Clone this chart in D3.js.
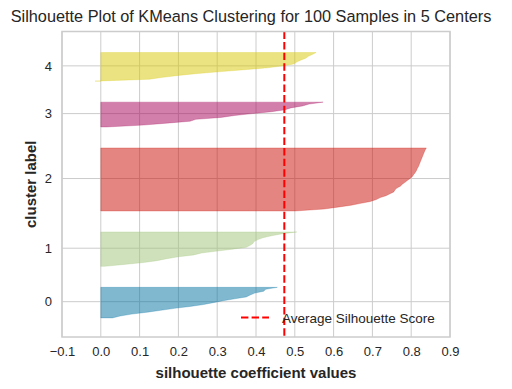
<!DOCTYPE html>
<html>
<head>
<meta charset="utf-8">
<script src="https://cdn.jsdelivr.net/npm/d3@7"></script>
<style>
  body { margin: 0; background: #ffffff; }
  svg { display: block; font-family: "Liberation Sans", Arial, sans-serif; }
</style>
</head>
<body>
<svg></svg>
<script>
/* silhouette values per cluster, sorted ascending */
var cluster0 = [0.03, 0.05, 0.08, 0.12, 0.155, 0.19, 0.23, 0.265, 0.29, 0.315, 0.345, 0.375, 0.385, 0.397, 0.42, 0.425, 0.455];
var cluster1 = [0.01, 0.06, 0.11, 0.145, 0.17, 0.2, 0.24, 0.26, 0.3, 0.34, 0.375, 0.385, 0.392, 0.395, 0.405, 0.418, 0.44, 0.465, 0.505];
var cluster2 = [0.5, 0.575, 0.61, 0.645, 0.67, 0.695, 0.71, 0.72, 0.735, 0.745, 0.755, 0.758, 0.763, 0.772, 0.777, 0.784,
  0.79, 0.797, 0.803, 0.806, 0.81, 0.813, 0.815, 0.818, 0.82, 0.822, 0.824, 0.826, 0.828, 0.83, 0.832, 0.834, 0.836, 0.839];
var cluster3 = [0.015, 0.11, 0.17, 0.23, 0.245, 0.31, 0.345, 0.39, 0.44, 0.475, 0.49, 0.52, 0.537, 0.573];
var cluster4 = [-0.015, 0.125, 0.16, 0.2, 0.25, 0.31, 0.37, 0.43, 0.47, 0.497, 0.505, 0.515, 0.528, 0.535, 0.545, 0.555];

var clusters = [cluster0, cluster1, cluster2, cluster3, cluster4];
var clusterLabels = ["0", "1", "2", "3", "4"];
var clusterColors = ["#0272a2", "#9fc377", "#ca0b03", "#a50258", "#d7c703"];
var avgScore = 0.473;
var xTicks = [-0.1, 0.0, 0.1, 0.2, 0.3, 0.4, 0.5, 0.6, 0.7, 0.8, 0.9];

var width = 512;
var height = 389;
/* plot box ("top" is a reserved global, so prefix these) */
var mLeft = 62, mRight = 450, mTop = 31.5, mBottom = 337;
var gap = 10;
var fontFam = "'Liberation Sans', Arial, sans-serif";

var svg = d3.select("svg").attr("width", width).attr("height", height);

/* stacking like yellowbrick: start at 10, gap of 10 between clusters */
var yLower = gap;
var bands = [];
clusters.forEach(function (vals, i) {
  bands.push({ label: clusterLabels[i], color: clusterColors[i], values: vals, start: yLower });
  yLower = yLower + vals.length + gap;
});
var totalSamples = d3.sum(clusters, function (c) { return c.length; });

var xScale = d3.scaleLinear().domain([-0.1, 0.9]).range([mLeft, mRight]);
var yScale = d3.scaleLinear()
  .domain([0, totalSamples + (clusters.length + 1) * gap])
  .range([mBottom, mTop]);

var tickPos = bands.map(function (b) { return b.start + b.values.length / 2; });

/* grid */
var grid = svg.append("g");
grid.selectAll("line.vx")
  .data(xTicks)
  .enter()
  .append("line")
  .attr("x1", function (d) { return xScale(d); })
  .attr("x2", function (d) { return xScale(d); })
  .attr("y1", mTop)
  .attr("y2", mBottom)
  .attr("stroke", "#cccccc")
  .attr("stroke-width", 1);
grid.selectAll("line.hy")
  .data(tickPos)
  .enter()
  .append("line")
  .attr("x1", mLeft)
  .attr("x2", mRight)
  .attr("y1", function (d) { return yScale(d); })
  .attr("y2", function (d) { return yScale(d); })
  .attr("stroke", "#cccccc")
  .attr("stroke-width", 1);

/* silhouette areas */
var area = d3.area()
  .y(function (d) { return yScale(d.y); })
  .x0(xScale(0))
  .x1(function (d) { return xScale(d.v); });

svg.append("g")
  .selectAll("path")
  .data(bands)
  .enter()
  .append("path")
  .attr("d", function (b) {
    return area(b.values.map(function (v, j) { return { y: b.start + j, v: v }; }));
  })
  .attr("fill", function (b) { return b.color; })
  .attr("fill-opacity", 0.5)
  .attr("stroke", function (b) { return b.color; })
  .attr("stroke-opacity", 0.5)
  .attr("stroke-width", 0.5);

/* average line */
svg.append("line")
  .attr("x1", xScale(avgScore))
  .attr("x2", xScale(avgScore))
  .attr("y1", mTop)
  .attr("y2", mBottom)
  .attr("stroke", "#ff0000")
  .attr("stroke-width", 2)
  .attr("stroke-dasharray", "7.4,3.2");

/* frame */
svg.append("rect")
  .attr("x", mLeft)
  .attr("y", mTop)
  .attr("width", mRight - mLeft)
  .attr("height", mBottom - mTop)
  .attr("fill", "none")
  .attr("stroke", "#cccccc")
  .attr("stroke-width", 1.5);

/* axes */
var xAxis = d3.axisBottom(xScale)
  .tickValues(xTicks)
  .tickSize(0)
  .tickPadding(10)
  .tickFormat(function (d) { return d3.format(".1f")(d).replace("-", "\u2212"); });
var gx = svg.append("g")
  .attr("id", "x-axis")
  .attr("transform", "translate(0, " + mBottom + ")")
  .call(xAxis);
gx.select(".domain").remove();
gx.selectAll("text")
  .attr("fill", "#262626")
  .style("font-size", "13px")
  .style("font-family", fontFam);

var yAxis = d3.axisLeft(yScale)
  .tickValues(tickPos)
  .tickSize(0)
  .tickPadding(10)
  .tickFormat(function (d, i) { return clusterLabels[i]; });
var gy = svg.append("g")
  .attr("id", "y-axis")
  .attr("transform", "translate(" + mLeft + ", 0)")
  .call(yAxis);
gy.select(".domain").remove();
gy.selectAll("text")
  .attr("fill", "#262626")
  .style("font-size", "13px")
  .style("font-family", fontFam);

/* labels */
svg.append("text")
  .attr("x", 251)
  .attr("y", 22)
  .attr("text-anchor", "middle")
  .attr("fill", "#262626")
  .style("font-size", "16.3px")
  .text("Silhouette Plot of KMeans Clustering for 100 Samples in 5 Centers");

svg.append("text")
  .attr("x", 256)
  .attr("y", 377.5)
  .attr("text-anchor", "middle")
  .attr("fill", "#262626")
  .style("font-size", "15px")
  .style("font-weight", "bold")
  .text("silhouette coefficient values");

svg.append("text")
  .attr("transform", "translate(35.5, " + (mTop + mBottom) / 2 + ") rotate(-90)")
  .attr("text-anchor", "middle")
  .attr("fill", "#262626")
  .style("font-size", "15px")
  .style("font-weight", "bold")
  .text("cluster label");

/* legend */
var legend = svg.append("g");
legend.append("line")
  .attr("x1", 241)
  .attr("x2", 269)
  .attr("y1", 317.5)
  .attr("y2", 317.5)
  .attr("stroke", "#ff0000")
  .attr("stroke-width", 2)
  .attr("stroke-dasharray", "7.4,3.2");
legend.append("text")
  .attr("x", 282)
  .attr("y", 322.5)
  .attr("fill", "#262626")
  .style("font-size", "13.5px")
  .text("Average Silhouette Score");
</script>
</body>
</html>
